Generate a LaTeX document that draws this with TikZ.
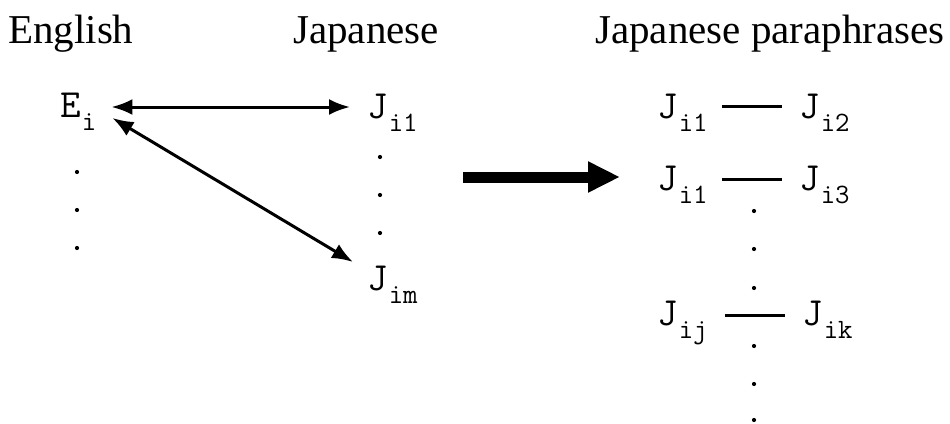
\documentclass[tikz,border=0pt]{standalone}
\usepackage{fontspec}
\setmainfont{Liberation Serif}
\setmonofont{Latin Modern Mono}
\usetikzlibrary{arrows.meta}
\newcommand{\mainsz}{\fontsize{40pt}{40pt}\selectfont}
\newcommand{\subsz}{\fontsize{28pt}{28pt}\selectfont}
\newcommand{\sym}[2]{{\ttfamily\mainsz #1\hspace{1pt}\raisebox{-13pt}{\subsz #2}}}
\tikzset{
  title/.style={anchor=base west, inner sep=0pt, font=\fontsize{41pt}{41pt}\selectfont},
  sym/.style={anchor=base west, inner sep=0pt},
  dbl/.style={line width=3pt, {Latex[length=21pt,width=16pt]}-{Latex[length=21pt,width=16pt]}},
  pair/.style={line width=3pt},
  big/.style={line width=11pt, -{Triangle[length=32pt,width=29pt]}},
  dotf/.style={fill=black}
}
\begin{document}
\begin{tikzpicture}[x=1pt,y=-1pt]
\useasboundingbox (0,0) rectangle (950,423);
% titles
\node[title] (tEn) at (8,43) {English};
\node[title] (tJa) at (293,43) {Japanese};
\node[title] (tPa) at (595,43) {Japanese paraphrases};
% left group
\node[sym] (Ei) at (60,117) {\sym{E}{i}};
\node[sym] (Ji1) at (367,118) {\sym{J}{i1}};
\node[sym] (Jim) at (367,290) {\sym{J}{im}};
\draw[dbl] ([shift={(15,-10)}]Ei.base east) -- ([shift={(-17,-11)}]Ji1.base west);
\draw[dbl] ([shift={(16,1)}]Ei.base east) -- ([shift={(-14,-28)}]Jim.base west);
\foreach \y in {172,210,248} \fill[dotf] (77,\y) circle (2.1);
\foreach \y in {157,195,233} \fill[dotf] (380,\y) circle (2.1);
% big arrow
\coordinate (bigA) at (463,177);
\coordinate (bigB) at (620,177);
\draw[big] (bigA) -- (bigB);
% right group
\node[sym] (Ra1) at (657,118) {\sym{J}{i1}};
\node[sym] (Rb1) at (799,118) {\sym{J}{i2}};
\node[sym] (Ra2) at (657,190) {\sym{J}{i1}};
\node[sym] (Rb2) at (799,190) {\sym{J}{i3}};
\node[sym] (Ra3) at (657,325) {\sym{J}{ij}};
\node[sym] (Rb3) at (802,325) {\sym{J}{ik}};
\draw[pair] ([shift={(14,-12)}]Ra1.base east) -- ([shift={(-17,-12)}]Rb1.base west);
\draw[pair] ([shift={(14,-11)}]Ra2.base east) -- ([shift={(-17,-11)}]Rb2.base west);
\draw[pair] ([shift={(17,-10)}]Ra3.base east) -- ([shift={(-17,-10)}]Rb3.base west);
\foreach \y in {211,249,288,346,384,420} \fill[dotf] (754,\y) circle (2.1);
\end{tikzpicture}
\end{document}
